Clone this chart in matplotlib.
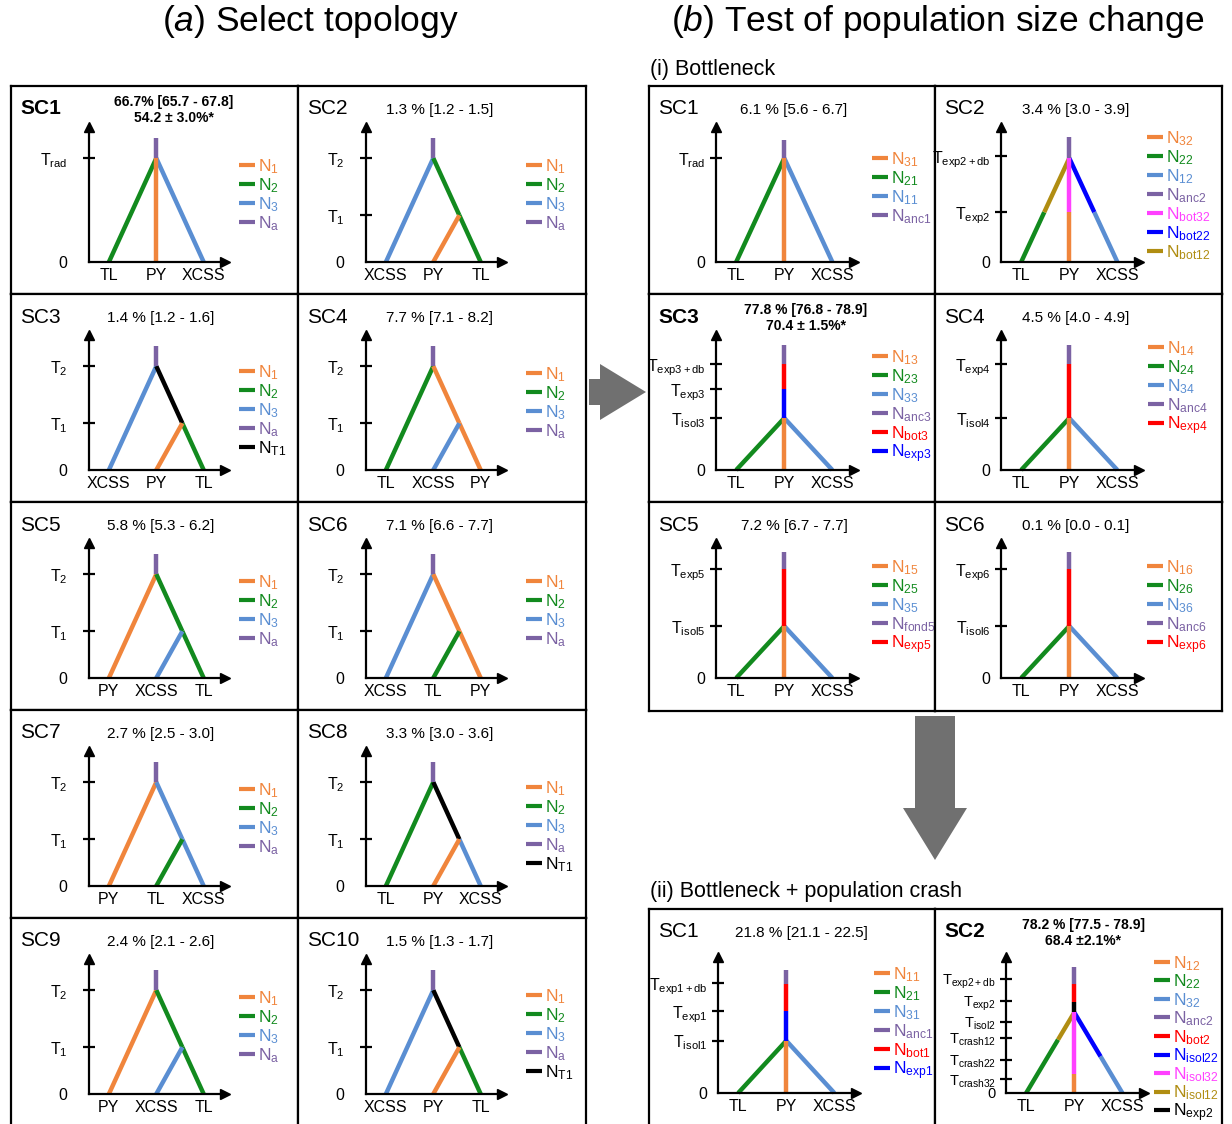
import matplotlib
matplotlib.use('Agg')
import matplotlib.pyplot as plt
from matplotlib.patches import FancyArrow

W, H = 1232, 1124

plt.rcParams['font.family'] = ['Liberation Sans', 'DejaVu Sans']
plt.rcParams['mathtext.fontset'] = 'custom'
plt.rcParams['mathtext.rm'] = 'Liberation Sans'
plt.rcParams['mathtext.it'] = 'Liberation Sans:italic'
plt.rcParams['mathtext.bf'] = 'Liberation Sans:bold'

OR, GR, LB, PU, BK = '#F0853C', '#128A1E', '#5A8ED2', '#7B62A3', 'black'
RD, BL, MG, OL = '#FF0000', '#0000FF', '#FF40FF', '#B08D12'

# ---- (a) select topology ----
A_NAMES = ['SC1', 'SC2', 'SC3', 'SC4', 'SC5', 'SC6', 'SC7', 'SC8', 'SC9', 'SC10']
A_BOLD = [True, False, False, False, False, False, False, False, False, False]
A_STATS = ['66.7% [65.7 - 67.8]\n54.2 ± 3.0%*', '1.3 % [1.2 - 1.5]', '1.4 % [1.2 - 1.6]',
           '7.7 % [7.1 - 8.2]', '5.8 % [5.3 - 6.2]', '7.1 % [6.6 - 7.7]', '2.7 % [2.5 - 3.0]',
           '3.3 % [3.0 - 3.6]', '2.4 % [2.1 - 2.6]', '1.5 % [1.3 - 1.7]']
A_ORDER = [('TL', 'PY', 'XCSS'), ('XCSS', 'PY', 'TL'), ('XCSS', 'PY', 'TL'), ('TL', 'XCSS', 'PY'),
           ('PY', 'XCSS', 'TL'), ('XCSS', 'TL', 'PY'), ('PY', 'TL', 'XCSS'), ('TL', 'PY', 'XCSS'),
           ('PY', 'XCSS', 'TL'), ('XCSS', 'PY', 'TL')]
A_T1 = [None, 0.45, 0.45, 0.45, 0.45, 0.45, 0.45, 0.45, 0.45, 0.45]
A_T2 = 1.0
A_TOP = 1.19
A_LEFT = [GR, LB, LB, GR, OR, LB, OR, GR, OR, LB]
A_MID = [OR, OR, OR, LB, LB, GR, GR, OR, LB, OR]
A_RLOW = [LB, GR, GR, OR, GR, OR, LB, LB, GR, GR]
A_RHIGH = [LB, GR, BK, OR, GR, OR, LB, BK, GR, BK]

# ---- (b)(i) bottleneck ----
B_NAMES = ['SC1', 'SC2', 'SC3', 'SC4', 'SC5', 'SC6']
B_BOLD = [False, False, True, False, False, False]
B_STATS = ['6.1 % [5.6 - 6.7]', '3.4 % [3.0 - 3.9]', '77.8 % [76.8 - 78.9]\n70.4 ± 1.5%*',
           '4.5 % [4.0 - 4.9]', '7.2 % [6.7 - 7.7]', '0.1 % [0.0 - 0.1]']
B_ORDER = [('TL', 'PY', 'XCSS')] * 6
B_TICKLAB = [['rad'], ['exp2', 'exp2+db'], ['isol3', 'exp3', 'exp3+db'],
             ['isol4', 'exp4'], ['isol5', 'exp5'], ['isol6', 'exp6']]
B_TICKVAL = [[1.0], [0.48, 1.02], [0.5, 0.78, 1.02], [0.5, 1.02], [0.5, 1.05], [0.5, 1.05]]
B_LSEG = [[(1.0, GR)], [(0.48, GR), (1.0, OL)], [(0.5, GR)], [(0.5, GR)], [(0.5, GR)], [(0.5, GR)]]
B_MSEG = [[(1.0, OR)], [(0.48, OR), (1.0, MG)], [(0.5, OR)], [(0.5, OR)], [(0.5, OR)], [(0.5, OR)]]
B_RSEG = [[(1.0, LB)], [(0.48, LB), (1.0, BL)], [(0.5, LB)], [(0.5, LB)], [(0.5, LB)], [(0.5, LB)]]
B_SSEG = [[(1.17, PU)], [(1.2, PU)], [(0.78, BL), (1.02, RD), (1.2, PU)],
          [(1.02, RD), (1.2, PU)], [(1.05, RD), (1.21, PU)], [(1.05, RD), (1.21, PU)]]
B_LEGLAB = [['31', '21', '11', 'anc1'], ['32', '22', '12', 'anc2', 'bot32', 'bot22', 'bot12'],
            ['13', '23', '33', 'anc3', 'bot3', 'exp3'], ['14', '24', '34', 'anc4', 'exp4'],
            ['15', '25', '35', 'fond5', 'exp5'], ['16', '26', '36', 'anc6', 'exp6']]
B_LEGCOL = [[OR, GR, LB, PU], [OR, GR, LB, PU, MG, BL, OL], [OR, GR, LB, PU, RD, BL],
            [OR, GR, LB, PU, RD], [OR, GR, LB, PU, RD], [OR, GR, LB, PU, RD]]

# ---- (b)(ii) bottleneck + crash ----
C_NAMES = ['SC1', 'SC2']
C_BOLD = [False, True]
C_STATS = ['21.8 % [21.1 - 22.5]', '78.2 % [77.5 - 78.9]\n68.4 ±2.1%*']
C_ORDER = [('TL', 'PY', 'XCSS')] * 2
C_TICKLAB = [['isol1', 'exp1', 'exp1+db'],
             ['crash32', 'crash22', 'crash12', 'isol2', 'exp2', 'exp2+db']]
C_TICKVAL = [[0.5, 0.78, 1.05], [0.13, 0.32, 0.53, 0.68, 0.88, 1.09]]
C_LSEG = [[(0.5, GR)], [(0.51, GR), (0.77, OL)]]
C_MSEG = [[(0.5, OR)], [(0.18, OR), (0.77, MG)]]
C_RSEG = [[(0.5, LB)], [(0.35, LB), (0.77, BL)]]
C_SSEG = [[(0.78, BL), (1.04, RD), (1.18, PU)], [(0.87, BK), (1.04, RD), (1.2, PU)]]
C_LEGLAB = [['11', '21', '31', 'anc1', 'bot1', 'exp1'],
            ['12', '22', '32', 'anc2', 'bot2', 'isol22', 'isol32', 'isol12', 'exp2']]
C_LEGCOL = [[OR, GR, LB, PU, RD, BL], [OR, GR, LB, PU, RD, BL, MG, OL, BK]]

fig = plt.figure(figsize=(W / 100, H / 100), dpi=100, facecolor='white')


def px_rect(x0, y0, w, h):
    return [x0 / W, 1 - (y0 + h) / H, w / W, h / H]


def draw_panel(cell, inner, p):
    cx0, cy0, cx1, cy1 = cell
    cw, ch = cx1 - cx0, cy1 - cy0
    # outer box, in pixel units of the cell
    box = fig.add_axes(px_rect(cx0, cy0, cw, ch))
    box.set_xlim(0, cw)
    box.set_ylim(ch, 0)
    box.set_xticks([])
    box.set_yticks([])
    for s in box.spines.values():
        s.set_linewidth(1.6)
    wt = 'bold' if p['bold'] else 'normal'
    box.text(9, 23, p['name'], fontsize=15, fontweight=wt, va='center')
    box.text(p['stat_x'], 24, p['stat'], ha='center', va='center', linespacing=1.25,
             fontsize=10 if p['bold'] else 11, fontweight=wt)

    # legend: short line + coloured N with subscript
    lx, ly = p['leg_xy']
    dy = p.get('leg_dy', 19)
    for k, (lab, col) in enumerate(zip(p['leg_lab'], p['leg_col'])):
        y = ly + dy * k
        box.plot([lx, lx + 16], [y, y], color=col, lw=3, solid_capstyle='butt')
        box.text(lx + 19, y + 6, 'N$_{\\mathrm{%s}}$' % lab, color=col, fontsize=12.5,
                 va='baseline')

    # tree axes
    ix, iy, iw, ih = inner
    ax = fig.add_axes(px_rect(cx0 + ix, cy0 + iy, iw, ih))
    ax.patch.set_alpha(0)
    ax.set_xlim(-0.42, 2.45)
    ax.set_ylim(0, 1.3)
    ax.spines[['top', 'right']].set_visible(False)
    ax.spines[['left', 'bottom']].set_linewidth(1.6)
    ax.plot(0, 1, '^k', ms=7, transform=ax.transAxes, clip_on=False)
    ax.plot(1, 0, '>k', ms=7, transform=ax.transAxes, clip_on=False)
    ax.set_xticks([0, 1, 2], p['order'])
    ax.set_yticks([0] + p['tick_val'], ['0'] + ['T$_{\\mathrm{%s}}$' % s for s in p['tick_lab']])
    ax.yaxis.get_major_ticks()[0].tick1line.set_visible(False)
    ax.tick_params(axis='x', length=0, pad=4, labelsize=11.5)
    ax.tick_params(axis='y', direction='inout', length=9, width=1.6, pad=p['pad'],
                   labelsize=p['tick_fs'])

    root, join = p['root'], p['join']

    def pos(line, t):
        if line == 'L':
            return t / root
        if line == 'R':
            return 2 - t / root
        if line == 'M' and join is not None:
            return 1 + (1 - join / root) * t / join
        return 1

    for line in 'LRMS':
        t0 = root if line == 'S' else 0
        for t1, c in p[line]:
            ax.plot([pos(line, t0), pos(line, t1)], [t0, t1], color=c, lw=3.2,
                    solid_capstyle='butt', clip_on=False)
            t0 = t1


# grid (a)
A_COLS = [11, 298, 586]
A_ROWS = [86, 294, 502, 710, 918, 1130]
for i in range(10):
    r, c = i // 2, i % 2
    j = A_T1[i]
    leg_lab = ['1', '2', '3', 'a'] + (['T1'] if A_RHIGH[i] == BK else [])
    leg_col = [OR, GR, LB, PU] + ([BK] if A_RHIGH[i] == BK else [])
    p = dict(name=A_NAMES[i], bold=A_BOLD[i], stat=A_STATS[i],
             stat_x=163 if A_BOLD[i] else [150, 142][c], order=A_ORDER[i],
             tick_lab=['rad'] if j is None else ['1', '2'],
             tick_val=[A_T2] if j is None else [j, A_T2],
             root=A_T2, join=j, pad=11, tick_fs=11.5,
             L=[(A_T2, A_LEFT[i])],
             M=[(j if j is not None else A_T2, A_MID[i])],
             R=[(A_T2, A_RLOW[i])] if j is None else [(j, A_RLOW[i]), (A_T2, A_RHIGH[i])],
             S=[(A_TOP, PU)], leg_lab=leg_lab, leg_col=leg_col,
             leg_xy=(228, 79 if len(leg_lab) == 4 else 77))
    draw_panel((A_COLS[c], A_ROWS[r], A_COLS[c + 1], A_ROWS[r + 1]),
               ([78, 68][c], 41, 136, 135), p)

# grid (b)(i)
B_COLS = [649, 935, 1222]
B_ROWS = [86, 294, 502, 711]
B_LEGXY = [(223, 72), (212, 51), (223, 62), (213, 53), (223, 64), (212, 64)]
for i in range(6):
    r, c = i // 2, i % 2
    p = dict(name=B_NAMES[i], bold=B_BOLD[i], stat=B_STATS[i],
             stat_x=157 if B_BOLD[i] else [145, 141][c], order=B_ORDER[i],
             tick_lab=B_TICKLAB[i], tick_val=B_TICKVAL[i], root=B_LSEG[i][-1][0],
             join=None, pad=3, tick_fs=11.5, L=B_LSEG[i], M=B_MSEG[i], R=B_RSEG[i],
             S=B_SSEG[i], leg_lab=B_LEGLAB[i], leg_col=B_LEGCOL[i], leg_xy=B_LEGXY[i])
    draw_panel((B_COLS[c], B_ROWS[r], B_COLS[c + 1], B_ROWS[r + 1]),
               ([67, 66][c], 41, 138, 135), p)

# grid (b)(ii)
C_COLS = [649, 935, 1222]
C_ROWS = [909, 1130]
C_LEGXY = [(225, 64), (219, 53)]
C_LEGDY = [19, 18.5]
for i in range(2):
    p = dict(name=C_NAMES[i], bold=C_BOLD[i], stat=C_STATS[i],
             stat_x=[152, 148][i], order=C_ORDER[i],
             tick_lab=C_TICKLAB[i], tick_val=C_TICKVAL[i], root=C_LSEG[i][-1][0],
             join=None, pad=3, tick_fs=[11.5, 10.5][i], L=C_LSEG[i], M=C_MSEG[i], R=C_RSEG[i],
             S=C_SSEG[i], leg_lab=C_LEGLAB[i], leg_col=C_LEGCOL[i], leg_xy=C_LEGXY[i],
             leg_dy=C_LEGDY[i])
    draw_panel((C_COLS[i], C_ROWS[0], C_COLS[i + 1], C_ROWS[1]),
               ([69, 71][i], 48, 138, 136), p)

# overlay for titles and big arrows (pixel coordinates)
ov = fig.add_axes([0, 0, 1, 1], zorder=-1)
ov.set_xlim(0, W)
ov.set_ylim(H, 0)
ov.axis('off')
ov.text(310, 22, '$\\mathit{(a)}$ Select topology', fontsize=25.5, ha='center', va='center')
ov.text(938, 22, '$\\mathit{(b)}$ Test of population size change', fontsize=25.5,
        ha='center', va='center')
ov.text(650, 69, '(i) Bottleneck', fontsize=15.5, va='center')
ov.text(650, 892, '(ii) Bottleneck + population crash', fontsize=15.5, va='center')
ov.add_patch(FancyArrow(589, 392, 57, 0, width=26, head_width=56, head_length=46,
                        length_includes_head=True, color='#707070', lw=0))
ov.add_patch(FancyArrow(935, 716, 0, 144, width=40, head_width=64, head_length=52,
                        length_includes_head=True, color='#707070', lw=0))

fig.savefig('out.png', dpi=100, facecolor='white')
